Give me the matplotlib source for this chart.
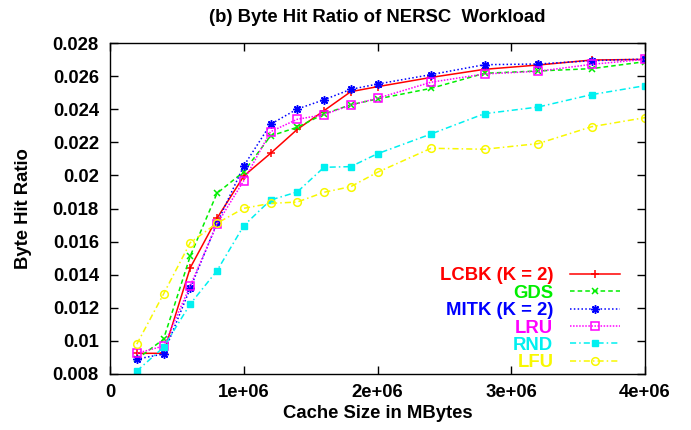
import matplotlib
matplotlib.use("Agg")
import matplotlib.pyplot as plt
from matplotlib.ticker import FixedLocator, FixedFormatter

plt.rcParams['font.family'] = ['Liberation Sans', 'DejaVu Sans']
plt.rcParams['font.weight'] = 'bold'

cache_sizes = [2e5, 4e5, 6e5, 8e5, 1e6, 1.2e6, 1.4e6, 1.6e6, 1.8e6, 2e6,
               2.4e6, 2.8e6, 3.2e6, 3.6e6, 4e6]

lcbk = [0.00925, 0.00925, 0.01442, 0.01741, 0.01996, 0.02133, 0.02278, 0.02391,
        0.02506, 0.02536, 0.02592, 0.02641, 0.02667, 0.02697, 0.02701]
gds = [0.00889, 0.0101, 0.01513, 0.01892, 0.02022, 0.02238, 0.02291, 0.02371,
       0.02427, 0.02462, 0.02526, 0.02617, 0.02631, 0.02645, 0.02687]
mitk = [0.0089, 0.00921, 0.01318, 0.01711, 0.02057, 0.02309, 0.02401, 0.02457,
        0.0252, 0.02552, 0.02609, 0.02669, 0.02673, 0.02693, 0.02703]
lru = [0.00925, 0.00969, 0.01333, 0.01706, 0.01968, 0.02264, 0.02339, 0.02367,
       0.02425, 0.02466, 0.02563, 0.02613, 0.02629, 0.02671, 0.02701]
rnd = [0.00818, 0.00961, 0.01223, 0.01424, 0.01696, 0.01851, 0.019, 0.02049,
       0.02053, 0.02131, 0.0225, 0.02373, 0.02413, 0.02488, 0.02542]
lfu = [0.0098, 0.01283, 0.01594, 0.01711, 0.01801, 0.01831, 0.01839, 0.01898,
       0.01932, 0.02019, 0.02164, 0.02158, 0.02192, 0.02294, 0.02349]

series_labels = ["LCBK (K = 2)", "GDS", "MITK (K = 2)", "LRU", "RND", "LFU"]
x_ticks = [0, 1e6, 2e6, 3e6, 4e6]
x_tick_labels = ["0", "1e+06", "2e+06", "3e+06", "4e+06"]
y_ticks = [0.008, 0.010, 0.012, 0.014, 0.016, 0.018, 0.020, 0.022, 0.024, 0.026, 0.028]
y_tick_labels = ["0.008", "0.01", "0.012", "0.014", "0.016", "0.018", "0.02",
                 "0.022", "0.024", "0.026", "0.028"]

FS = 13.3

fig = plt.figure(figsize=(6.91, 4.30), dpi=100)
ax = fig.add_axes([110/691, 56/430, 535/691, 331/430])

styles = [
    dict(color='#ff0000', ls='-', marker='+', ms=6, mew=1.1),
    dict(color='#00ee00', ls=(0, (3, 2)), marker='x', ms=5, mew=1.1),
    dict(color='#0000ff', ls=(0, (1, 1.5)), marker=(8, 2, 0), ms=6, mew=1.1),
    dict(color='#ff00ff', ls=(0, (1, 1)), marker='s', ms=5.5, mew=1.1, mfc='none'),
    dict(color='#00f0f0', ls=(0, (4, 2, 1, 2)), marker='s', ms=5, mew=1),
    dict(color='#f8f800', ls=(0, (4, 2, 1, 2)), marker='o', ms=5.5, mew=1.1, mfc='none'),
]
data = [lcbk, gds, mitk, lru, rnd, lfu]
for d, st, lab in zip(data, styles, series_labels):
    ax.plot(cache_sizes, d, lw=1.1, label=lab, **st)

ax.set_xlim(0, 4e6)
ax.set_ylim(0.008, 0.028)
ax.xaxis.set_major_locator(FixedLocator(x_ticks))
ax.xaxis.set_major_formatter(FixedFormatter(x_tick_labels))
ax.yaxis.set_major_locator(FixedLocator(y_ticks))
ax.yaxis.set_major_formatter(FixedFormatter(y_tick_labels))
ax.tick_params(direction='in', length=6, width=1, top=True, right=True,
               labelsize=FS)
ax.tick_params(axis='y', pad=8)
ax.tick_params(axis='x', pad=7)
for lbl in ax.get_xticklabels() + ax.get_yticklabels():
    lbl.set_fontweight('bold')
for sp in ax.spines.values():
    sp.set_linewidth(1)

ax.set_title("(b) Byte Hit Ratio of NERSC  Workload", fontsize=FS, fontweight='bold', pad=15)
ax.set_xlabel("Cache Size in MBytes", fontsize=FS, fontweight='bold', labelpad=3)
ax.set_ylabel("Byte Hit Ratio", fontsize=FS, fontweight='bold', labelpad=14.5)

leg = ax.legend(loc='lower right', bbox_to_anchor=(0.984, -0.042), markerfirst=False,
                frameon=False, labelcolor='linecolor', handlelength=2.7,
                labelspacing=0.02, handletextpad=0.9,
                prop={'weight': 'bold', 'size': FS})

fig.savefig("out.png", dpi=100)
